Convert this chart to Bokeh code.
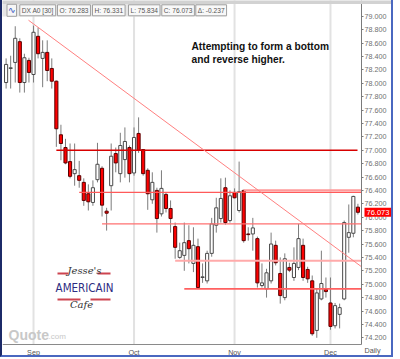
from bokeh.plotting import figure
from bokeh.models import ColumnDataSource, FixedTicker, PrintfTickFormatter, Label, BoxAnnotation
from bokeh.embed import file_html
from bokeh.resources import INLINE

# ---- data (US Dollar Index futures, daily, Aug-Dec) ----
opens = [78.01, 78.22, 78.31, 78.62, 78.01, 78.34, 78.13, 78.70, 78.37, 78.46,
         78.22, 78.03, 77.23, 77.04, 76.83, 76.65, 76.62, 76.52, 76.35, 76.22,
         76.56, 76.73, 76.09, 76.47, 76.95, 76.65, 76.86, 77.04, 76.66, 77.25,
         77.01, 76.70, 76.26, 76.40, 76.05, 76.34, 76.13, 75.86, 75.40, 75.43,
         75.65, 75.31, 75.56, 75.10, 75.05, 75.46, 75.88, 75.98, 76.44, 75.95,
         76.37, 76.10, 76.40, 75.75, 75.75, 75.68, 74.98, 74.93, 75.05, 75.58,
         75.16, 74.80, 75.25, 75.10, 75.25, 75.58, 75.22, 75.05, 74.31, 74.78,
         74.92, 74.72, 74.38, 74.55, 74.78, 75.70, 75.76, 76.15]
highs = [78.37, 78.41, 78.85, 78.67, 78.44, 78.38, 78.86, 78.83, 78.64, 78.64,
         78.37, 78.04, 77.38, 77.17, 77.10, 77.10, 76.84, 76.58, 76.49, 76.55,
         77.11, 76.76, 76.14, 77.10, 77.04, 77.26, 77.34, 77.07, 77.34, 77.49,
         77.01, 76.73, 76.67, 76.44, 76.70, 76.37, 76.25, 75.92, 75.62, 75.92,
         75.88, 75.85, 75.68, 75.31, 75.50, 75.99, 76.29, 76.58, 76.59, 76.40,
         76.43, 76.83, 76.41, 75.85, 75.99, 75.71, 75.31, 75.23, 75.77, 75.65,
         75.40, 75.46, 75.32, 75.55, 75.90, 75.68, 75.26, 75.13, 74.93, 75.50,
         75.10, 75.10, 74.72, 74.71, 75.95, 76.19, 76.32, 76.20]
lows = [77.92, 77.92, 78.01, 77.86, 77.86, 78.01, 78.01, 78.37, 77.94, 78.03,
        77.92, 77.05, 76.85, 76.79, 76.58, 76.47, 76.44, 76.17, 76.10, 76.17,
        76.52, 76.01, 75.80, 76.10, 76.67, 76.52, 76.59, 76.52, 76.62, 76.96,
        76.62, 76.11, 76.20, 75.77, 76.01, 76.07, 75.77, 75.38, 75.38, 75.20,
        75.31, 75.18, 74.93, 75.02, 75.01, 75.41, 75.77, 75.92, 75.89, 75.92,
        76.28, 76.07, 75.62, 75.65, 75.50, 74.95, 74.95, 74.80, 75.01, 75.28,
        74.71, 74.76, 75.18, 75.05, 75.21, 75.05, 75.02, 74.23, 74.20, 74.76,
        74.80, 74.32, 74.34, 74.34, 74.76, 75.47, 75.70, 76.04]
closes = [78.28, 78.23, 78.67, 78.01, 78.38, 78.16, 78.76, 78.44, 78.46, 78.19,
          78.03, 77.32, 77.10, 76.81, 76.61, 76.71, 76.55, 76.25, 76.23, 76.44,
          76.79, 76.18, 76.06, 76.91, 76.81, 77.07, 77.13, 76.65, 77.19, 77.00,
          76.65, 76.35, 76.52, 75.98, 76.43, 76.13, 75.98, 75.55, 75.50, 75.62,
          75.53, 75.58, 74.95, 75.11, 75.46, 75.90, 76.14, 76.28, 75.92, 76.32,
          76.29, 76.38, 75.65, 75.74, 75.84, 75.02, 75.02, 75.17, 75.60, 75.32,
          74.83, 75.38, 75.21, 75.31, 75.68, 75.10, 75.08, 74.26, 74.87, 75.01,
          74.89, 74.37, 74.68, 74.65, 75.92, 75.77, 76.31, 76.073]

month_tick_index = [6, 28, 50, 71]
month_labels = ["Sep", "Oct", "Nov", "Dec"]
price_ticks = [74.2, 74.4, 74.6, 74.8, 75.0, 75.2, 75.4, 75.6, 75.8, 76.0, 76.2, 76.4,
               76.6, 76.8, 77.0, 77.2, 77.4, 77.6, 77.8, 78.0, 78.2, 78.4, 78.6, 78.8, 79.0]

level_values = [77.00, 76.37, 76.40, 75.90, 75.35, 74.93]
level_start_index = [11, 16, 52, 21, 37, 39]
trend_index = [4.9, 77.8]
trend_values = [78.94, 75.26]

header_items = ["DX A0 [30]", "O: 76.283", "H: 76.331", "L: 75.834", "C: 76.073", "\u0394: -0.237"]
last_price = 76.073
note_lines = ["Attempting to form a bottom", "and reverse higher."]

# ---- helpers: place decorations by reference pixel position ----
def ix(px):
    return (px - 5.6) / 4.569

def vy(py):
    return 79.0 - (py - 15.7) / 67.0

n = len(opens)
idx = list(range(n))
up_i = [i for i in idx if closes[i] >= opens[i]]
dn_i = [i for i in idx if closes[i] < opens[i]]

def src(ids):
    return ColumnDataSource(dict(
        x=ids,
        high=[highs[i] for i in ids],
        low=[lows[i] for i in ids],
        top=[max(opens[i], closes[i]) for i in ids],
        bottom=[min(opens[i], closes[i]) for i in ids],
    ))

s_up = src(up_i)
s_dn = src(dn_i)

x_lo, x_hi = ix(2), ix(395)
y_lo, y_hi = vy(357), vy(0)
x_axis_at = vy(344)
y_axis_at = ix(361)

p = figure(width=393, height=357, x_range=(x_lo, x_hi), y_range=(y_lo, y_hi),
           output_backend="svg", toolbar_location=None, y_axis_location="right",
           min_border_left=0, min_border_right=0, min_border_top=0, min_border_bottom=0)
p.styles = {"border-left": "2px solid #1c2a68", "border-right": "2px solid #4a68c0",
            "border-bottom": "2px solid #4a68c0"}
p.outline_line_color = None
p.background_fill_color = "white"
p.grid.visible = False

p.xaxis.fixed_location = x_axis_at
p.xaxis.bounds = (x_lo, y_axis_at)
p.xaxis.ticker = FixedTicker(ticks=month_tick_index)
p.xaxis.major_label_overrides = {t: l for t, l in zip(month_tick_index, month_labels)}
p.xaxis.axis_line_color = "#8a8a8a"
p.xaxis.major_tick_out = 0
p.xaxis.major_tick_in = 0
p.xaxis.minor_tick_out = 0
p.xaxis.minor_tick_in = 0
p.xaxis.major_label_text_font = "Liberation Sans"
p.xaxis.major_label_text_font_size = "7.2px"
p.xaxis.major_label_text_color = "#555555"
p.xaxis.major_label_standoff = 3

p.yaxis.fixed_location = y_axis_at
p.yaxis.bounds = (x_axis_at, y_hi + 1)
p.yaxis.ticker = FixedTicker(ticks=price_ticks)
p.yaxis.formatter = PrintfTickFormatter(format="%.3f")
p.yaxis.axis_line_color = "#7a7a7a"
p.yaxis.major_tick_out = 2
p.yaxis.major_tick_in = 0
p.yaxis.minor_tick_out = 0
p.yaxis.minor_tick_in = 0
p.yaxis.major_tick_line_color = "#7a7a7a"
p.yaxis.major_label_text_font = "Liberation Sans"
p.yaxis.major_label_text_font_size = "7.2px"
p.yaxis.major_label_text_color = "#707070"
p.yaxis.major_label_standoff = 1

# month grid lines, stopping at the date axis
p.segment(x0=month_tick_index, y0=[x_axis_at] * len(month_tick_index),
          x1=month_tick_index, y1=[y_hi + 1] * len(month_tick_index),
          line_color="#e2e2e2", line_width=2)

# candles
for s, fill, edge in ((s_up, "white", "#4a4a4a"), (s_dn, "#ff0000", "#5a0000")):
    p.segment(x0="x", y0="high", x1="x", y1="low", source=s, line_color="#7c7c7c", line_width=1)
    p.vbar(x="x", width=0.68, top="top", bottom="bottom", source=s,
           fill_color=fill, line_color=edge, line_width=1)

# support / resistance lines
level_colors = ["#d80000", "#ff5a5a", "#ff9a9a", "#ff7070", "#ffaaaa", "#ff6060"]
level_widths = [1.4, 1.2, 2.2, 1.4, 2.2, 1.8]
level_ends = [ix(357), y_axis_at, y_axis_at, y_axis_at, y_axis_at, y_axis_at]
for v, st, en, c, w in zip(level_values, level_start_index, level_ends, level_colors, level_widths):
    p.segment(x0=[st], y0=[v], x1=[en], y1=[v], line_color=c, line_width=w)

p.line(trend_index, trend_values, line_color="#ff8080", line_width=1)

# header bar
p.add_layout(BoxAnnotation(left=x_lo - 5, right=x_hi + 5, top=y_hi + 1, bottom=vy(3.5),
                           fill_color="#d2d2d2", fill_alpha=1, line_color=None))
p.add_layout(BoxAnnotation(left=x_lo - 5, right=ix(226), top=vy(3.5), bottom=vy(16),
                           fill_color="#e6e6e6", fill_alpha=1, line_color=None))
p.add_layout(Label(x=ix(6.5), y=vy(9.8), text="\u223f", text_font="DejaVu Sans",
                   text_font_size="9px", text_color="#2a4cc0", text_baseline="middle",
                   background_fill_color="#f6f6f6", border_line_color="#a0a0a0", padding=1))
header_left = [19.3, 57, 92, 128, 161.3, 195.3]
for xl, t in zip(header_left, header_items):
    p.add_layout(Label(x=ix(xl), y=vy(9.8), text=t, text_font="Liberation Sans",
                       text_font_size="6.6px", text_color="#555555", text_baseline="middle",
                       background_fill_color="#f8f8f8", border_line_color="#a0a0a0", padding=2))

# note text
for k, t in enumerate(note_lines):
    p.add_layout(Label(x=ix(191), y=vy(45.5 + 13.5 * k), text=t, text_font="Liberation Sans",
                       text_font_style="bold", text_font_size="10.2px", text_color="#111111",
                       text_baseline="middle"))

# logo
for l0, r0, yy in ((57, 68, 273), (97, 110, 273), (57, 80, 299), (90, 110, 299)):
    p.add_layout(BoxAnnotation(left=ix(l0), right=ix(r0), top=vy(yy - 1), bottom=vy(yy + 1),
                               fill_color="#c8303c", fill_alpha=0.9, line_color=None))
p.add_layout(Label(x=ix(84), y=vy(270), text="Jesse's", text_font="DejaVu Serif",
                   text_font_style="italic", text_font_size="10px", text_color="#333333",
                   text_align="center", text_baseline="middle"))
p.add_layout(Label(x=ix(84), y=vy(287), text="AMERICAIN",
                   text_font="'DejaVu Sans Condensed', 'Liberation Sans Narrow', 'Liberation Sans'",
                   text_font_size="11.5px", text_color="#2e2d82",
                   text_align="center", text_baseline="middle"))
p.add_layout(Label(x=ix(81), y=vy(304), text="Cafe", text_font="DejaVu Serif",
                   text_font_style="italic", text_font_size="10px", text_color="#333333",
                   text_align="center", text_baseline="middle"))
p.add_layout(Label(x=ix(8), y=vy(334), text="Quote", text_font="Liberation Sans",
                   text_font_style="bold", text_font_size="14px", text_color="#c8c8c8",
                   text_baseline="middle"))
p.add_layout(Label(x=ix(48), y=vy(336), text=".com", text_font="Liberation Sans",
                   text_font_size="8px", text_color="#c8c8c8", text_baseline="middle"))

# price tag and "Daily"
p.add_layout(Label(x=ix(364), y=last_price, text=f"{last_price:.3f}", text_font="Liberation Sans",
                   text_font_size="7.5px", text_color="white", text_baseline="middle",
                   background_fill_color="#ff0000", padding=2))
p.add_layout(Label(x=ix(372), y=vy(350), text="Daily", text_font="Liberation Sans",
                   text_font_size="7.2px", text_color="#555555", text_align="center",
                   text_baseline="middle"))

open("out.html", "w").write(file_html(p, INLINE))
